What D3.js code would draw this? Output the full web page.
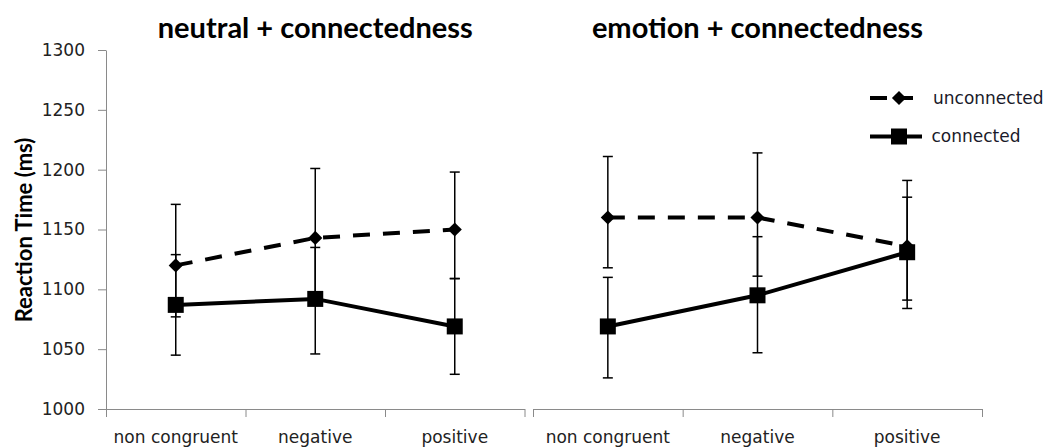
<!DOCTYPE html>
<html>
<head>
<meta charset="utf-8">
<script src="https://cdn.jsdelivr.net/npm/d3@7"></script>
<style>
  html, body { margin: 0; padding: 0; background: #fff; }
  svg { display: block; }
</style>
</head>
<body>
<svg id="chart" width="1050" height="448"></svg>
<script>
// Reaction time by congruence, for two stimulus conditions
const categories = ["non congruent", "negative", "positive"];
const panelTitles = ["neutral + connectedness", "emotion + connectedness"];
const seriesNames = ["unconnected", "connected"];
const yTicks = [1000, 1050, 1100, 1150, 1200, 1250, 1300];

// neutral + connectedness
const neutralUnconnected = [1120, 1143, 1150];
const neutralUnconnectedLow = [1077, 1092, 1109];
const neutralUnconnectedHigh = [1171, 1201, 1198];
const neutralConnected = [1087, 1092, 1069];
const neutralConnectedLow = [1045, 1046, 1029];
const neutralConnectedHigh = [1129, 1135, 1109];

// emotion + connectedness
const emotionUnconnected = [1160, 1160, 1136];
const emotionUnconnectedLow = [1118, 1111, 1084];
const emotionUnconnectedHigh = [1211, 1214, 1191];
const emotionConnected = [1069, 1095, 1131];
const emotionConnectedLow = [1026, 1047, 1091];
const emotionConnectedHigh = [1110, 1144, 1177];

const svg = d3.select("#chart");
const labelFont = "'DejaVu Sans', Verdana, sans-serif";
const boldFont = "Lato, 'Open Sans', sans-serif";

const y = d3.scaleLinear().domain([1000, 1300]).range([409, 50]);
const axisY = 409;

const panels = [
  {
    title: panelTitles[0], range: [106, 524.5],
    series: [
      { name: seriesNames[0], mean: neutralUnconnected, lo: neutralUnconnectedLow, hi: neutralUnconnectedHigh },
      { name: seriesNames[1], mean: neutralConnected, lo: neutralConnectedLow, hi: neutralConnectedHigh }
    ]
  },
  {
    title: panelTitles[1], range: [533, 982],
    series: [
      { name: seriesNames[0], mean: emotionUnconnected, lo: emotionUnconnectedLow, hi: emotionUnconnectedHigh },
      { name: seriesNames[1], mean: emotionConnected, lo: emotionConnectedLow, hi: emotionConnectedHigh }
    ]
  }
];

const styles = {
  unconnected: { dash: "17,13", marker: d3.symbol(d3.symbolSquare, 100), rotate: 45 },
  connected: { dash: null, marker: d3.symbol(d3.symbolSquare, 256), rotate: 0 }
};

// Y axis
const yAxis = svg.append("g")
  .attr("transform", "translate(106,0)")
  .call(d3.axisLeft(y).tickValues(yTicks).tickFormat(d3.format("d"))
    .tickSize(8).tickSizeOuter(0).tickPadding(13));
yAxis.select(".domain").attr("stroke", "#8a8a8a");
yAxis.selectAll(".tick line").attr("stroke", "#8a8a8a");
yAxis.selectAll(".tick text")
  .attr("font-family", labelFont).attr("font-size", 17).attr("fill", "#222");

svg.append("text")
  .attr("transform", "translate(32,230) rotate(-90)")
  .attr("text-anchor", "middle")
  .attr("font-family", boldFont).attr("font-weight", 700).attr("font-size", 22)
  .attr("fill", "#000")
  .text("Reaction Time (ms)");

panels.forEach(p => {
  const x = d3.scaleBand().domain(categories).range(p.range);
  const cx = d => x(d) + x.bandwidth() / 2;

  // Boundary ticks along the category axis
  const edges = d3.scaleLinear().domain([0, categories.length]).range(p.range);
  const edgeAxis = svg.append("g")
    .attr("transform", `translate(0,${axisY})`)
    .call(d3.axisBottom(edges).tickValues(d3.range(categories.length + 1))
      .tickSize(8).tickSizeOuter(0).tickFormat(""));
  edgeAxis.select(".domain").attr("stroke", "#8a8a8a");
  edgeAxis.selectAll(".tick line").attr("stroke", "#8a8a8a");

  // Category labels
  const catAxis = svg.append("g")
    .attr("transform", `translate(0,${axisY})`)
    .call(d3.axisBottom(x).tickSize(0).tickPadding(22));
  catAxis.select(".domain").remove();
  catAxis.selectAll(".tick text")
    .attr("font-family", labelFont).attr("font-size", 17).attr("fill", "#222");

  // Panel title
  svg.append("text")
    .attr("x", (p.range[0] + p.range[1]) / 2).attr("y", 38)
    .attr("text-anchor", "middle")
    .attr("font-family", boldFont).attr("font-weight", 700).attr("font-size", 29)
    .attr("fill", "#000")
    .text(p.title);

  const g = svg.append("g");

  // Error bars
  p.series.forEach(s => {
    const bars = g.append("g").attr("stroke", "#000").attr("stroke-width", 1.5);
    categories.forEach((c, i) => {
      const xc = cx(c);
      bars.append("line").attr("x1", xc).attr("x2", xc).attr("y1", y(s.lo[i])).attr("y2", y(s.hi[i]));
      [s.lo[i], s.hi[i]].forEach(v => {
        bars.append("line").attr("x1", xc - 5).attr("x2", xc + 5).attr("y1", y(v)).attr("y2", y(v));
      });
    });
  });

  // Lines and markers, connected drawn on top
  p.series.forEach(s => {
    const st = styles[s.name];
    const line = d3.line().x((d, i) => cx(categories[i])).y(d => y(d));
    g.append("path")
      .attr("d", line(s.mean))
      .attr("fill", "none").attr("stroke", "#000").attr("stroke-width", 4)
      .attr("stroke-dasharray", st.dash);
    g.selectAll(null).data(s.mean).enter().append("path")
      .attr("d", st.marker())
      .attr("transform", (d, i) => `translate(${cx(categories[i])},${y(d)}) rotate(${st.rotate})`)
      .attr("fill", "#000");
  });
});

// Legend
const legend = svg.append("g");
seriesNames.forEach((name, i) => {
  const st = styles[name];
  const ly = 98 + i * 38.5;
  legend.append("line")
    .attr("x1", 870).attr("x2", 922).attr("y1", ly).attr("y2", ly)
    .attr("stroke", "#000").attr("stroke-width", 4)
    .attr("stroke-dasharray", name === "unconnected" ? "17,9" : null);
  legend.append("path")
    .attr("d", st.marker())
    .attr("transform", `translate(899,${ly}) rotate(${st.rotate})`)
    .attr("fill", "#000");
  legend.append("text")
    .attr("x", 933 - (name === "connected" ? 1.5 : 0)).attr("y", ly + 5.5)
    .attr("font-family", labelFont).attr("font-size", 17).attr("fill", "#1a1a2a")
    .text(name);
});
</script>
</body>
</html>
